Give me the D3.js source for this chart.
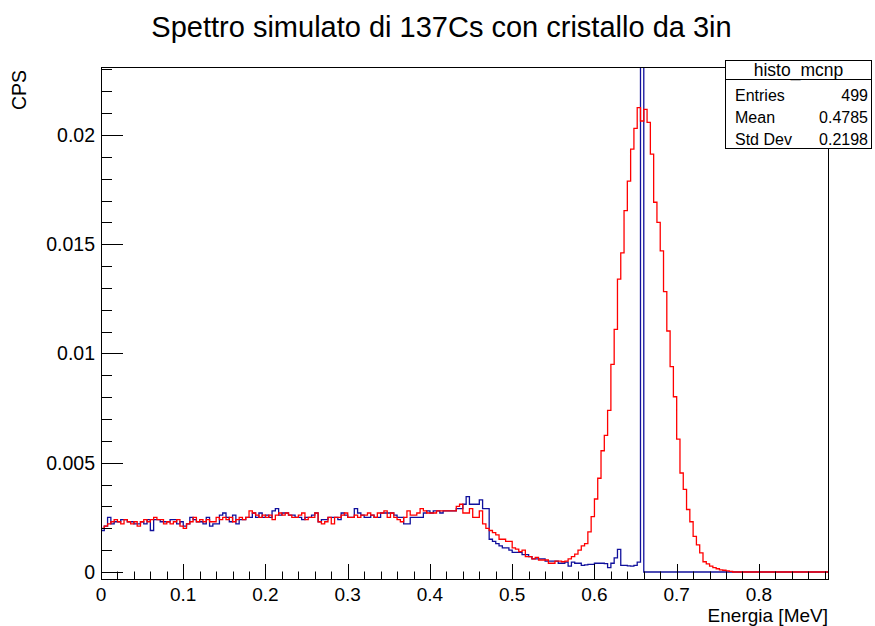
<!DOCTYPE html>
<html>
<head>
<meta charset="utf-8">
<script src="https://d3js.org/d3.v7.min.js"></script>
<style>
  body { margin: 0; background: #fff; }
  svg { font-family: "Liberation Sans", Arial, Helvetica, sans-serif; }
</style>
</head>
<body>
<div id="chart"></div>
<script>
// bin width of both histograms, MeV
var binWidth = 0.004;

// MCNP spectrum (blue), CPS per bin
var cpsMcnp = [
  0.0019, 0.0021, 0.0025, 0.0022, 0.0023, 0.0023, 0.0024, 0.0024, 0.0023, 0.0023,
  0.0022, 0.0022, 0.0023, 0.0022, 0.0024, 0.0019, 0.0024, 0.0024, 0.0023, 0.0023,
  0.0023, 0.0024, 0.0024, 0.0022, 0.0023, 0.0021, 0.0022, 0.0025, 0.0024, 0.0023,
  0.0023, 0.0022, 0.0025, 0.0021, 0.0022, 0.0022, 0.0026, 0.0027, 0.0025, 0.0023,
  0.0026, 0.0022, 0.0024, 0.0024, 0.0025, 0.0025, 0.0027, 0.0025, 0.0027, 0.0025,
  0.0026, 0.0025, 0.0028, 0.0029, 0.0026, 0.0027, 0.0027, 0.0026, 0.0026, 0.0025,
  0.0025, 0.0024, 0.0025, 0.0025, 0.0026, 0.0027, 0.0023, 0.0024, 0.0024, 0.0025,
  0.0025, 0.0025, 0.0024, 0.0027, 0.0026, 0.0025, 0.0025, 0.0029, 0.0027, 0.0026,
  0.0025, 0.0025, 0.0026, 0.0025, 0.0025, 0.0027, 0.0027, 0.0027, 0.0027, 0.0026,
  0.0025, 0.0025, 0.0022, 0.0022, 0.0025, 0.0025, 0.0025, 0.0025, 0.0027, 0.0028,
  0.0027, 0.0028, 0.0028, 0.0027, 0.0028, 0.0028, 0.0028, 0.0028, 0.0029, 0.0029,
  0.0031, 0.00345, 0.0031, 0.0031, 0.0031, 0.0033, 0.0029, 0.0029, 0.0015, 0.0014,
  0.0013, 0.0012, 0.0011, 0.0011, 0.0010, 0.0009, 0.0009, 0.0009, 0.0008, 0.0008,
  0.0007, 0.0006, 0.0006, 0.0006, 0.0006, 0.0005, 0.0005, 0.0005, 0.0005, 0.0004,
  0.0004, 0.00045, 0.00027, 0.00045, 0.0004, 0.0004, 0.0003, 0.00033, 0.00035, 0.00035,
  0.0004, 0.0004, 0.0004, 0.00038, 0.0002, 0.0004, 0.00065, 0.00104, 0.0003, 0.0003,
  0.00028, 0.00027, 0.0003, 0.00045, 0.052, 0, 0, 0, 0, 0,
  0, 0, 0, 0, 0, 0, 0, 0, 0, 0,
  0, 0, 0, 0, 0, 0, 0, 0, 0, 0,
  0, 0, 0, 0, 0, 0, 0, 0, 0, 0,
  0, 0, 0, 0, 0, 0, 0, 0, 0, 0,
  0, 0, 0, 0, 0, 0, 0, 0, 0, 0,
  0
];

// spectrum folded with detector resolution (red)
var cpsSmeared = [
  0.0020, 0.0021, 0.0022, 0.0023, 0.0024, 0.0023, 0.0022, 0.0024, 0.0023, 0.0022,
  0.0023, 0.0021, 0.0023, 0.0024, 0.0023, 0.0024, 0.0025, 0.0024, 0.0024, 0.0022,
  0.0023, 0.0022, 0.0023, 0.0024, 0.0021, 0.0020, 0.0022, 0.0023, 0.0025, 0.0023,
  0.0024, 0.0023, 0.0024, 0.0023, 0.0023, 0.0025, 0.0024, 0.0025, 0.0024, 0.0025,
  0.0023, 0.0024, 0.0025, 0.0024, 0.0025, 0.0028, 0.0027, 0.0026, 0.0025, 0.0026,
  0.0025, 0.0026, 0.0024, 0.0026, 0.0027, 0.0026, 0.0027, 0.0026, 0.0025, 0.0025,
  0.0026, 0.0027, 0.0024, 0.0025, 0.0025, 0.0027, 0.0023, 0.0022, 0.0023, 0.0025,
  0.0022, 0.0025, 0.0025, 0.0026, 0.0027, 0.0025, 0.0025, 0.0026, 0.0025, 0.0026,
  0.0026, 0.0027, 0.0026, 0.0025, 0.0027, 0.0027, 0.0028, 0.0025, 0.0027, 0.0025,
  0.0024, 0.0023, 0.0025, 0.0028, 0.0026, 0.0026, 0.0027, 0.0029, 0.0028, 0.0027,
  0.0027, 0.0027, 0.0028, 0.0028, 0.0028, 0.0028, 0.0028, 0.0028, 0.0030, 0.0031,
  0.0027, 0.0027, 0.0029, 0.0025, 0.0025, 0.0028, 0.0022, 0.0020, 0.0019, 0.0018,
  0.0017, 0.0015, 0.0015, 0.0014, 0.0014, 0.0011, 0.00105, 0.00093, 0.0010, 0.0007,
  0.0007, 0.0006, 0.00067, 0.00055, 0.00055, 0.00055, 0.0004, 0.0004, 0.0005, 0.0005,
  0.00047, 0.0005, 0.0006, 0.0007, 0.00082, 0.0010, 0.0012, 0.0013, 0.00184, 0.00253,
  0.00334, 0.00429, 0.00555, 0.00625, 0.0074, 0.0095, 0.0111, 0.0134, 0.0146, 0.01654,
  0.01789, 0.01935, 0.0203, 0.02125, 0.02064, 0.02117, 0.02058, 0.01912, 0.01692, 0.0160,
  0.0147, 0.01283, 0.01103, 0.0094, 0.00802, 0.00608, 0.00453, 0.00378, 0.00286, 0.0023,
  0.00163, 0.00124, 0.00088, 0.00047, 0.00037, 0.00027, 0.0002, 0.00015, 0.0001, 0.00008,
  0.00005, 0.00003, 0, 0, 0, 0, 0, 0, 0, 0,
  0, 0, 0, 0, 0, 0, 0, 0, 0, 0,
  0, 0, 0, 0, 0, 0, 0, 0, 0, 0,
  0
];

var xTicks = [0, 0.1, 0.2, 0.3, 0.4, 0.5, 0.6, 0.7, 0.8];
var xTickLabels = ["0", "0.1", "0.2", "0.3", "0.4", "0.5", "0.6", "0.7", "0.8"];
var yTicks = [0, 0.005, 0.01, 0.015, 0.02];
var yTickLabels = ["0", "0.005", "0.01", "0.015", "0.02"];

var statTitle = "histo_mcnp";
var statLabels = ["Entries", "Mean", "Std Dev"];
var statValues = ["499", "0.4785", "0.2198"];

var W = 875, H = 626;
var fx0 = 101, fx1 = 828, fy0 = 67, fy1 = 579;

var svg = d3.select("#chart").append("svg")
  .attr("width", W)
  .attr("height", H);

var x = d3.scaleLinear().domain([0, 0.884]).range([fx0, fx1]);
var y = d3.scaleLinear().domain([-0.00032, 0.02311]).range([fy1, fy0]);

//clip the histograms to the frame
svg.append("clipPath").attr("id", "frame")
  .append("rect")
  .attr("x", fx0).attr("y", fy0)
  .attr("width", fx1 - fx0).attr("height", fy1 - fy0);

function steps(values) {
  var pts = values.map(function(v, i) { return [i * binWidth, v]; });
  pts.push([values.length * binWidth, values[values.length - 1]]);
  return pts;
}

var line = d3.line()
  .x(function(d) { return x(d[0]); })
  .y(function(d) { return y(d[1]); })
  .curve(d3.curveStepAfter);

var plot = svg.append("g").attr("clip-path", "url(#frame)");

plot.append("path")
  .attr("d", line(steps(cpsMcnp)))
  .attr("fill", "none")
  .attr("stroke", "#10109c")
  .attr("stroke-width", 1.3);

plot.append("path")
  .attr("d", line(steps(cpsSmeared)))
  .attr("fill", "none")
  .attr("stroke", "#ff0000")
  .attr("stroke-width", 1.3);

// frame
svg.append("rect")
  .attr("x", fx0 + 0.5).attr("y", fy0 + 0.5)
  .attr("width", fx1 - fx0).attr("height", fy1 - fy0)
  .attr("fill", "none")
  .attr("stroke", "#000")
  .attr("stroke-width", 1);

// x axis: major every 0.1, minor every 0.02
var xMinor = d3.range(0, 45).map(function(i) { return i * 0.02; })
  .filter(function(v) { return v <= 0.884; });
svg.append("g").selectAll("line").data(xMinor).enter().append("line")
  .attr("x1", function(d) { return Math.round(x(d)) + 0.5; })
  .attr("x2", function(d) { return Math.round(x(d)) + 0.5; })
  .attr("y1", fy1)
  .attr("y2", function(d, i) { return i % 5 === 0 ? fy1 - 15 : fy1 - 7.5; })
  .attr("stroke", "#000");

svg.append("g").selectAll("text").data(xTicks).enter().append("text")
  .attr("x", function(d) { return x(d); })
  .attr("y", 600.5)
  .attr("text-anchor", "middle")
  .style("font-size", "19px")
  .text(function(d, i) { return xTickLabels[i]; });

// y axis: major every 0.005, minor every 0.001
var yMinor = d3.range(0, 24).map(function(i) { return i * 0.001; });
svg.append("g").selectAll("line").data(yMinor).enter().append("line")
  .attr("y1", function(d) { return Math.round(y(d)) + 0.5; })
  .attr("y2", function(d) { return Math.round(y(d)) + 0.5; })
  .attr("x1", fx0)
  .attr("x2", function(d, i) { return i % 5 === 0 ? fx0 + 22 : fx0 + 11; })
  .attr("stroke", "#000");

svg.append("g").selectAll("text").data(yTicks).enter().append("text")
  .attr("x", 95)
  .attr("y", function(d) { return y(d) + 7; })
  .attr("text-anchor", "end")
  .style("font-size", "19.5px")
  .text(function(d, i) { return yTickLabels[i]; });

// titles
svg.append("text")
  .attr("x", 441.5).attr("y", 37)
  .attr("text-anchor", "middle")
  .style("font-size", "29px")
  .text("Spettro simulato di 137Cs con cristallo da 3in");

svg.append("text")
  .attr("x", fx1).attr("y", 622)
  .attr("text-anchor", "end")
  .style("font-size", "19px")
  .text("Energia [MeV]");

svg.append("text")
  .attr("transform", "translate(26,70) rotate(-90)")
  .attr("text-anchor", "end")
  .style("font-size", "19.5px")
  .text("CPS");

// stats box
var bx = 725.5, by = 60.5, bw = 146, bh = 88, rowH = 22.8;
var stats = svg.append("g");
stats.append("rect")
  .attr("x", bx).attr("y", by)
  .attr("width", bw).attr("height", bh)
  .attr("fill", "#fff").attr("stroke", "#000");
stats.append("line")
  .attr("x1", bx).attr("x2", bx + bw)
  .attr("y1", 79.5).attr("y2", 79.5)
  .attr("stroke", "#000");
stats.append("text")
  .attr("x", bx + bw / 2).attr("y", 75.5)
  .attr("text-anchor", "middle")
  .style("font-size", "17.5px")
  .text(statTitle);
statLabels.forEach(function(lab, i) {
  var ty = 100.5 + 22 * i;
  stats.append("text")
    .attr("x", 735).attr("y", ty)
    .style("font-size", "16px")
    .text(lab);
  stats.append("text")
    .attr("x", 868).attr("y", ty)
    .attr("text-anchor", "end")
    .style("font-size", "16px")
    .text(statValues[i]);
});
</script>
</body>
</html>
